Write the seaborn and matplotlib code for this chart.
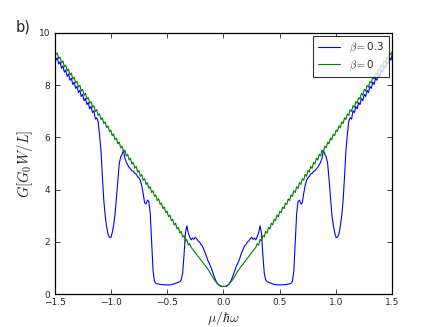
"""
Conductance G vs chemical potential for beta = 0.3 and beta = 0 (panel b).
"""

import numpy as np
import pandas as pd
import matplotlib
matplotlib.use("Agg")
import matplotlib.pyplot as plt
import seaborn as sns

# half grid mu/hbar*omega = 0 ... 1.5, step 0.0125 (curves are symmetric in mu)
mu_half = np.linspace(0.0, 1.5, 121)

g_blue_half = [
    0.30, 0.30, 0.31, 0.34, 0.40, 0.48, 0.60, 0.74, 0.90, 1.05,
    1.18, 1.28, 1.45, 1.60, 1.72, 1.85, 1.90, 2.00, 2.04, 2.12,
    2.18, 2.10, 2.15, 2.08, 2.20, 2.35, 2.62, 2.35, 1.50, 0.80,
    0.55, 0.48, 0.46, 0.44, 0.42, 0.40, 0.38, 0.37, 0.36, 0.36,
    0.36, 0.36, 0.36, 0.37, 0.37, 0.38, 0.39, 0.40, 0.42, 0.50,
    0.90, 2.00, 3.10, 3.55, 3.60, 3.45, 3.50, 3.85, 4.15, 4.35,
    4.45, 4.50, 4.60, 4.62, 4.70, 4.72, 4.80, 4.85, 4.95, 5.05,
    5.20, 5.50, 5.35, 5.25, 5.00, 4.40, 3.70, 3.05, 2.65, 2.35,
    2.17, 2.18, 2.30, 2.60, 3.00, 3.60, 4.50, 5.50, 6.10, 6.60,
    6.75, 6.70, 7.02, 6.94, 7.18, 7.09, 7.33, 7.25, 7.49, 7.40,
    7.64, 7.56, 7.80, 7.71, 7.95, 7.87, 8.11, 8.02, 8.26, 8.18,
    8.42, 8.33, 8.57, 8.49, 8.73, 8.64, 8.88, 8.80, 9.04, 8.95,
    9.20,
]

g_green_half = [
    0.30, 0.30, 0.32, 0.35, 0.39, 0.45, 0.52, 0.60, 0.69, 0.78,
    0.87, 0.95, 1.03, 1.10, 1.17, 1.24, 1.31, 1.38, 1.45, 1.52,
    1.59, 1.66, 1.73, 1.80, 1.94, 1.88, 2.10, 2.03, 2.25, 2.19,
    2.41, 2.34, 2.56, 2.50, 2.72, 2.65, 2.87, 2.81, 3.03, 2.96,
    3.18, 3.12, 3.34, 3.27, 3.49, 3.43, 3.65, 3.58, 3.80, 3.74,
    3.96, 3.89, 4.11, 4.05, 4.27, 4.20, 4.42, 4.36, 4.58, 4.51,
    4.73, 4.67, 4.89, 4.82, 5.04, 4.98, 5.20, 5.13, 5.35, 5.29,
    5.51, 5.44, 5.66, 5.60, 5.82, 5.75, 5.97, 5.91, 6.13, 6.06,
    6.28, 6.22, 6.44, 6.37, 6.59, 6.53, 6.75, 6.68, 6.90, 6.84,
    7.06, 6.99, 7.21, 7.15, 7.37, 7.30, 7.52, 7.46, 7.68, 7.61,
    7.83, 7.77, 7.99, 7.92, 8.14, 8.08, 8.30, 8.23, 8.45, 8.39,
    8.61, 8.54, 8.76, 8.70, 8.92, 8.85, 9.07, 9.01, 9.23, 9.16,
    9.31,
]

labels = [r"$\beta=$0.3", r"$\beta=$0"]
colors = ["#0000ff", "#008000"]

mu = np.concatenate([-mu_half[::-1], mu_half[1:]])
g_blue = np.concatenate([np.array(g_blue_half)[::-1], g_blue_half[1:]])
g_green = np.concatenate([np.array(g_green_half)[::-1], g_green_half[1:]])

df = pd.concat([
    pd.DataFrame({"mu": mu, "G": g_blue, "beta": labels[0]}),
    pd.DataFrame({"mu": mu, "G": g_green, "beta": labels[1]}),
])

sns.set_style("ticks")
plt.rcParams["mathtext.fontset"] = "cm"
plt.rcParams["font.family"] = ["DejaVu Sans"]

fig = plt.figure(figsize=(4.36, 3.27), dpi=100)
ax = fig.add_axes([0.125, 0.1, 0.775, 0.8])
sns.lineplot(data=df, x="mu", y="G", hue="beta", palette=colors,
             hue_order=labels, sort=False, estimator=None, linewidth=0.8, ax=ax)

ax.set_xlim(-1.5, 1.5)
ax.set_ylim(0, 10)
ax.set_xticks([-1.5, -1.0, -0.5, 0.0, 0.5, 1.0, 1.5])
ax.set_yticks([0, 2, 4, 6, 8, 10])
ax.tick_params(direction="in", top=True, right=True, labelsize=6.5,
               length=3.5, width=0.6, pad=3)
for sp in ax.spines.values():
    sp.set_linewidth(0.9)
    sp.set_color("black")

ax.set_xlabel(r"$\mu/\hbar\omega$", fontsize=10, labelpad=1)
ax.set_ylabel(r"$G[G_0W/L]$", fontsize=10.5, labelpad=3)

leg = ax.legend(loc="upper right", fontsize=7.5, frameon=True, fancybox=False,
                handlelength=2.2, borderpad=0.45, labelspacing=0.3,
                borderaxespad=0.35)
leg.get_frame().set_edgecolor("black")
leg.get_frame().set_linewidth(0.8)

fig.text(0.035, 0.905, "b)", fontsize=10.5)

fig.savefig("out.png", dpi=100)
plt.close(fig)
